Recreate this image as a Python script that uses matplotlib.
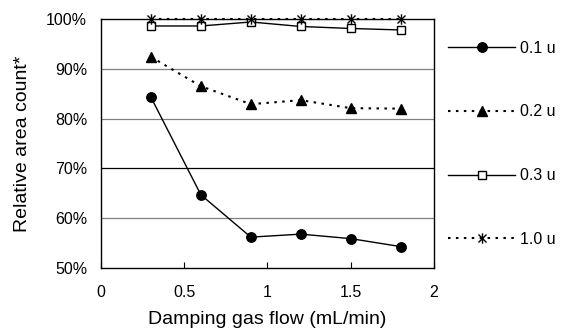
import matplotlib
matplotlib.use('Agg')
import matplotlib.pyplot as plt
from matplotlib.path import Path
from matplotlib.ticker import PercentFormatter

plt.rcParams['font.family'] = ['Liberation Sans', 'DejaVu Sans']

flow = [0.3, 0.6, 0.9, 1.2, 1.5, 1.8]
u01 = [84.3, 64.7, 56.2, 56.8, 55.9, 54.3]
u02 = [92.4, 86.5, 82.9, 83.7, 82.1, 82.0]
u03 = [98.6, 98.6, 99.4, 98.5, 98.1, 97.8]
u10 = [100, 100, 100, 100, 100, 100]
labels = ['0.1 u', '0.2 u', '0.3 u', '1.0 u']

dots = (0, (1.2, 2.6))
# excel style asterisk: x with a vertical bar
star = Path([(-1, -1), (1, 1), (-1, 1), (1, -1), (0, -1.3), (0, 1.3)],
            [Path.MOVETO, Path.LINETO, Path.MOVETO, Path.LINETO, Path.MOVETO, Path.LINETO])

fig = plt.figure(figsize=(5.66, 3.34), dpi=100)
ax = fig.add_axes([0.1784, 0.1976, 0.5883, 0.7455])

# gridlines
for y, c in [(60, '#808080'), (70, 'black'), (80, '#808080'), (90, '#808080')]:
    ax.axhline(y, color=c, lw=0.9, zorder=0)

l1, = ax.plot(flow, u01, color='black', lw=1, marker='o', ms=6.8, label=labels[0])
l2, = ax.plot(flow, u02, color='black', lw=1.5, ls=dots, marker='^', ms=7.5, label=labels[1])
l3, = ax.plot(flow, u03, color='black', lw=1, marker='s', ms=6, mfc='white', mew=1, label=labels[2])
l4, = ax.plot(flow, u10, color='black', lw=1.5, ls=dots, marker=star, ms=7.5, mew=1, label=labels[3],
              clip_on=False)

ax.set_xlim(0, 2)
ax.set_ylim(50, 100)
ax.set_xticks([0, 0.5, 1, 1.5, 2])
ax.set_xticklabels(['0', '0.5', '1', '1.5', '2'])
ax.set_yticks([50, 60, 70, 80, 90, 100])
ax.yaxis.set_major_formatter(PercentFormatter(decimals=0))
ax.tick_params(axis='x', direction='in', length=4, labelsize=11.5, pad=12)
ax.tick_params(axis='y', length=0, labelsize=11.5, pad=10)
for s in ax.spines.values():
    s.set_color('black')
    s.set_linewidth(1)

ax.set_xlabel('Damping gas flow (mL/min)', fontsize=14, labelpad=8)
ax.set_ylabel('Relative area count*', fontsize=14, labelpad=11)

fig.legend(handles=[l1, l2, l3, l4], loc='upper left', bbox_to_anchor=(0.7915, 0.878),
           frameon=False, fontsize=11.5, handlelength=4.2, labelspacing=3.05,
           handletextpad=0.3, borderpad=0, borderaxespad=0)

fig.savefig('out.png', dpi=100)
